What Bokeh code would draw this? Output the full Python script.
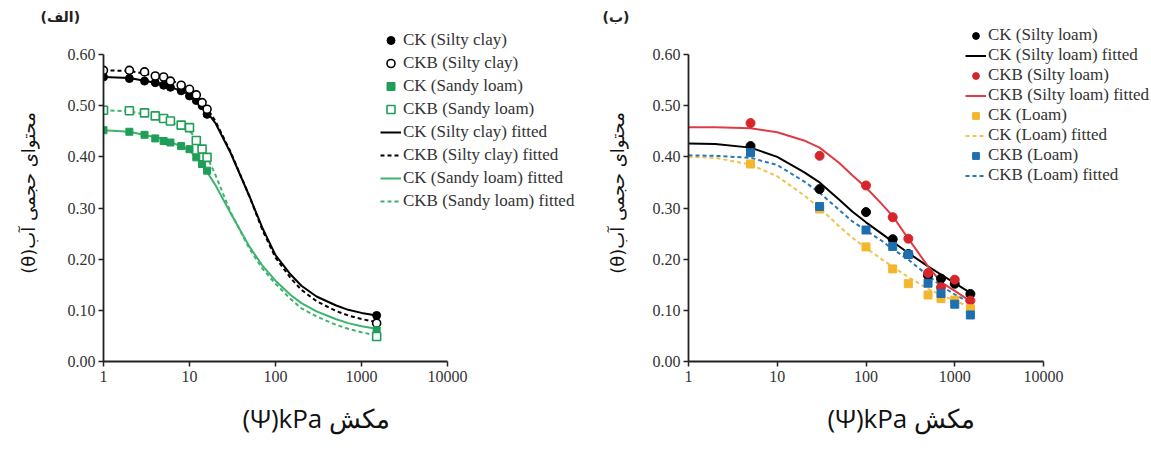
import math
from bokeh.plotting import figure
from bokeh.layouts import row
from bokeh.models import Range1d, FixedTicker, NumeralTickFormatter, Legend, LegendItem, Title
from bokeh.embed import file_html
from bokeh.resources import INLINE

# ---------------- data ----------------
x_ticks = [1, 10, 100, 1000, 10000]
y_ticks = [0.0, 0.1, 0.2, 0.3, 0.4, 0.5, 0.6]

# Panel (a): Silty clay / Sandy loam
psi_a = [1, 2, 3, 4, 5, 6, 8, 10, 12, 14, 16, 1500]
ck_silty_clay = [0.556, 0.553, 0.548, 0.545, 0.540, 0.536, 0.529, 0.519, 0.510, 0.500, 0.483, 0.090]
ckb_silty_clay = [0.569, 0.569, 0.566, 0.558, 0.556, 0.548, 0.540, 0.532, 0.521, 0.506, 0.493, 0.075]
ck_sandy_loam = [0.452, 0.449, 0.443, 0.436, 0.431, 0.428, 0.421, 0.415, 0.399, 0.386, 0.373, 0.061]
ckb_sandy_loam = [0.491, 0.490, 0.486, 0.480, 0.475, 0.470, 0.462, 0.457, 0.432, 0.415, 0.399, 0.049]

psi_fit = [1, 2, 5, 10, 15, 20, 30, 50, 70, 100, 150, 200, 300, 500, 700, 1000, 1500]
ck_silty_clay_fit = [0.556, 0.554, 0.542, 0.522, 0.494, 0.466, 0.408, 0.322, 0.262, 0.208, 0.170, 0.148, 0.127, 0.110, 0.101, 0.095, 0.090]
ckb_silty_clay_fit = [0.569, 0.568, 0.556, 0.534, 0.502, 0.470, 0.410, 0.322, 0.258, 0.203, 0.163, 0.140, 0.118, 0.099, 0.090, 0.083, 0.077]
ck_sandy_loam_fit = [0.452, 0.449, 0.435, 0.413, 0.378, 0.345, 0.290, 0.224, 0.188, 0.158, 0.130, 0.114, 0.098, 0.083, 0.075, 0.069, 0.064]
ckb_sandy_loam_fit = [0.491, 0.489, 0.475, 0.452, 0.410, 0.365, 0.292, 0.220, 0.182, 0.152, 0.122, 0.104, 0.088, 0.072, 0.064, 0.057, 0.051]

# Panel (b): Silty loam / Loam
psi_b = [5, 30, 100, 200, 300, 500, 700, 1000, 1500]
ck_silty_loam = [0.421, 0.337, 0.292, 0.239, 0.210, 0.168, 0.162, 0.152, 0.132]
ckb_silty_loam = [0.466, 0.402, 0.344, 0.282, 0.240, 0.173, 0.145, 0.160, 0.119]
ck_loam = [0.386, 0.298, 0.224, 0.181, 0.152, 0.130, 0.123, 0.120, 0.103]
ckb_loam = [0.408, 0.303, 0.257, 0.225, 0.209, 0.153, 0.133, 0.112, 0.091]

psi_fit_b = [1, 2, 5, 10, 20, 30, 50, 70, 100, 150, 200, 300, 500, 700, 1000, 1500]
ck_silty_loam_fit = [0.426, 0.425, 0.418, 0.400, 0.370, 0.350, 0.316, 0.293, 0.272, 0.250, 0.234, 0.212, 0.186, 0.170, 0.153, 0.134]
ckb_silty_loam_fit = [0.458, 0.458, 0.456, 0.448, 0.432, 0.418, 0.388, 0.364, 0.340, 0.308, 0.284, 0.240, 0.186, 0.155, 0.138, 0.118]
ck_loam_fit = [0.400, 0.398, 0.385, 0.362, 0.325, 0.300, 0.264, 0.242, 0.222, 0.200, 0.185, 0.165, 0.142, 0.130, 0.119, 0.106]
ckb_loam_fit = [0.403, 0.402, 0.398, 0.384, 0.352, 0.330, 0.296, 0.274, 0.256, 0.236, 0.220, 0.199, 0.168, 0.148, 0.131, 0.114]

x_label = "(Ψ)kPa مکش"
y_label = "(θ)محتوای حجمی آب"

GREEN_M = "#1f9e57"
GREEN_L = "#3cb46e"
RED_M = "#d7262b"
RED_L = "#de3c44"
YEL_M = "#f3b72e"
YEL_L = "#f0c24e"
BLUE_M = "#1d6fb0"
BLUE_L = "#2b78b5"
AX = "#222222"

# ---------------- geometry (pixels) ----------------
H = 450
FRAME_TOP = 24          # frame extends above the axis so the legend is not clipped
Y_TOP_PX = 54           # pixel row of y = 0.60
Y_BOT_PX = 361          # pixel row of y = 0.00 (frame bottom)
Y_MIN, Y_MAX = 0.0, 0.6
PX_PER_UNIT = (Y_BOT_PX - Y_TOP_PX) / (Y_MAX - Y_MIN)
y_range_top = Y_MIN + (Y_BOT_PX - FRAME_TOP) / PX_PER_UNIT


def make_fig(width, axis_left, axis_len, ylab_standoff, xlab_offset, xlab_standoff,
             title_text, title_offset):
    frame_w = width - axis_left
    decades = math.log10(x_ticks[-1] / x_ticks[0])
    x_end = x_ticks[0] * 10 ** (decades * frame_w / axis_len)
    p = figure(width=width, height=H, x_axis_type="log",
               x_range=Range1d(x_ticks[0], x_end), y_range=Range1d(Y_MIN, y_range_top),
               output_backend="svg", toolbar_location=None,
               min_border_left=axis_left, min_border_right=0,
               min_border_top=FRAME_TOP, min_border_bottom=H - Y_BOT_PX)
    p.outline_line_color = None
    p.grid.visible = False
    p.background_fill_color = "white"
    p.border_fill_color = "white"
    p.xaxis.ticker = FixedTicker(ticks=x_ticks)
    p.xaxis.formatter = NumeralTickFormatter(format="0")
    p.xaxis.bounds = (x_ticks[0], x_ticks[-1])
    p.yaxis.ticker = FixedTicker(ticks=y_ticks)
    p.yaxis.formatter = NumeralTickFormatter(format="0.00")
    p.yaxis.bounds = (Y_MIN, Y_MAX)
    for ax in (p.xaxis, p.yaxis):
        ax.axis_line_color = AX
        ax.axis_line_width = 1.8
        ax.major_tick_line_color = AX
        ax.major_tick_line_width = 1.5
        ax.major_tick_out = 5
        ax.major_tick_in = 0
        ax.minor_tick_line_color = None
        ax.major_label_text_font = "Liberation Serif"
        ax.major_label_text_font_size = "16px"
        ax.major_label_text_color = "#333333"
    p.yaxis.major_label_standoff = 3
    p.xaxis.major_label_standoff = 4
    p.yaxis.axis_label = y_label
    p.yaxis.axis_label_text_font = "DejaVu Sans"
    p.yaxis.axis_label_text_font_size = "18px"
    p.yaxis.axis_label_text_font_style = "normal"
    p.yaxis.axis_label_text_color = "#111111"
    p.yaxis.axis_label_standoff = ylab_standoff
    p.add_layout(Title(text=x_label, align="left", offset=xlab_offset, standoff=xlab_standoff,
                       text_font="Open Sans", text_font_size="26px", text_font_style="normal",
                       text_color="#111111"), "below")
    p.add_layout(Title(text=title_text, align="left", offset=title_offset, standoff=0,
                       text_font="DejaVu Sans", text_font_size="14px", text_font_style="bold",
                       text_color="#222222"), "above")
    return p


def legend(items, left_px, first_row_px, row_h, font):
    top_px = first_row_px - row_h / 2
    bottom_px = top_px + row_h * len(items)
    return Legend(items=[LegendItem(label=l, renderers=[r]) for l, r in items],
                  location=(left_px, Y_BOT_PX - bottom_px),
                  border_line_color=None, background_fill_alpha=0,
                  padding=0, margin=0, spacing=0, label_height=row_h, glyph_height=row_h - 3,
                  glyph_width=21, label_standoff=2,
                  label_text_font="Liberation Serif", label_text_font_size=font,
                  label_text_color="#333333")


# ---------------- panel (a) ----------------
p1 = make_fig(600, 103, 344, 26, 139, 26, "(الف)", -63)
r_l1 = p1.line(psi_fit, ck_silty_clay_fit, line_color="black", line_width=2)
r_l2 = p1.line(psi_fit, ckb_silty_clay_fit, line_color="black", line_width=2, line_dash="4 3")
r_l3 = p1.line(psi_fit, ck_sandy_loam_fit, line_color=GREEN_L, line_width=2)
r_l4 = p1.line(psi_fit, ckb_sandy_loam_fit, line_color=GREEN_L, line_width=2, line_dash="4 3")
r_m1 = p1.scatter(psi_a, ck_silty_clay, marker="circle", size=8, fill_color="black", line_color="black")
r_m2 = p1.scatter(psi_a, ckb_silty_clay, marker="circle", size=8, fill_color="white", line_color="black", line_width=1.6)
r_m3 = p1.scatter(psi_a, ck_sandy_loam, marker="square", size=7, fill_color=GREEN_M, line_color=GREEN_M)
r_m4 = p1.scatter(psi_a, ckb_sandy_loam, marker="square", size=8, fill_color="white", line_color=GREEN_M, line_width=1.6)
p1.add_layout(legend([
    ("CK (Silty clay)", r_m1), ("CKB (Silty clay)", r_m2),
    ("CK (Sandy loam)", r_m3), ("CKB (Sandy loam)", r_m4),
    ("CK (Silty clay) fitted", r_l1), ("CKB (Silty clay) fitted", r_l2),
    ("CK (Sandy loam) fitted", r_l3), ("CKB (Sandy loam) fitted", r_l4)],
    277, 40, 23, "17px"))

# ---------------- panel (b) ----------------
p2 = make_fig(551, 88, 355, 22, 139, 26, "(ب)", -86)
r_b1 = p2.line(psi_fit_b, ck_silty_loam_fit, line_color="black", line_width=2)
r_b2 = p2.line(psi_fit_b, ckb_silty_loam_fit, line_color=RED_L, line_width=2)
r_b3 = p2.line(psi_fit_b, ck_loam_fit, line_color=YEL_L, line_width=2, line_dash="4 3")
r_b4 = p2.line(psi_fit_b, ckb_loam_fit, line_color=BLUE_L, line_width=2, line_dash="4 3")
s_b1 = p2.scatter(psi_b, ck_silty_loam, marker="circle", size=9, fill_color="black", line_color="black")
s_b2 = p2.scatter(psi_b, ckb_silty_loam, marker="circle", size=9, fill_color=RED_M, line_color=RED_M)
s_b3 = p2.scatter(psi_b, ck_loam, marker="square", size=8, fill_color=YEL_M, line_color=YEL_M)
s_b4 = p2.scatter(psi_b, ckb_loam, marker="square", size=8, fill_color=BLUE_M, line_color=BLUE_M)
p2.add_layout(legend([
    ("CK (Silty loam)", s_b1), ("CK (Silty loam) fitted", r_b1),
    ("CKB (Silty loam)", s_b2), ("CKB (Silty loam) fitted", r_b2),
    ("CK (Loam)", s_b3), ("CK (Loam) fitted", r_b3),
    ("CKB (Loam)", s_b4), ("CKB (Loam) fitted", r_b4)],
    277, 35, 20, "17px"))

layout = row(p1, p2)
open("out.html", "w").write(file_html(layout, INLINE))
